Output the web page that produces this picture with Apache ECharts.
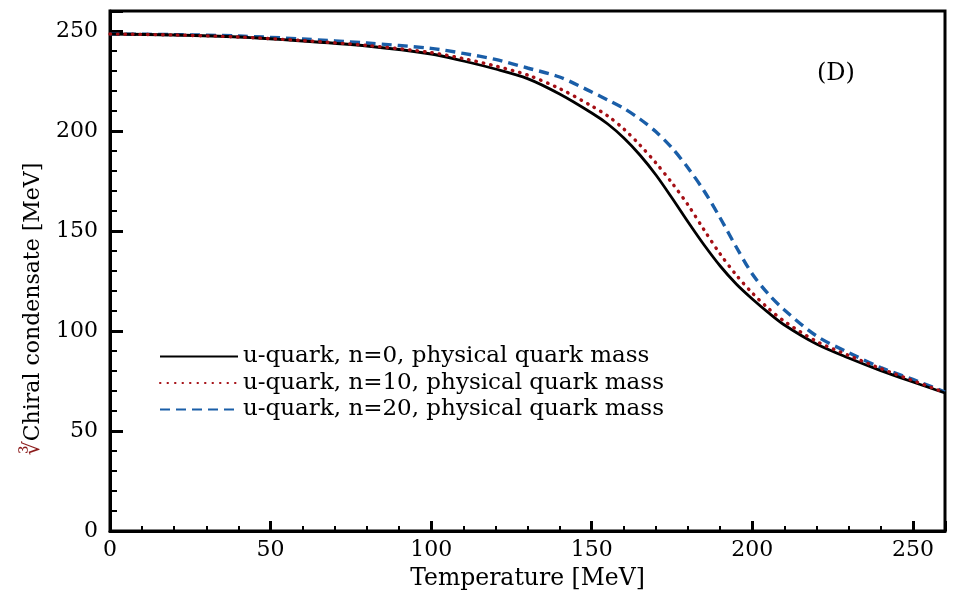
<!DOCTYPE html>
<html>
<head>
<meta charset="utf-8">
<script src="https://cdn.jsdelivr.net/npm/echarts@6/dist/echarts.min.js"></script>
<style>html,body{margin:0;padding:0;background:#fff}#c{width:955px;height:596px}</style>
</head>
<body>
<div id="c"></div>
<script>
const temperature = [0, 20, 40, 60, 80, 100, 110, 120, 130, 140, 150, 155, 160, 165, 170, 175, 180, 185, 190, 195, 200, 205, 210, 220, 230, 240, 250, 260];
const n0  = [248.5, 248.0, 247.0, 245.0, 242.5, 238.5, 235.0, 231.0, 226.2, 218.5, 209.0, 203.5, 196.5, 188.0, 178.0, 166.5, 154.5, 143.0, 132.5, 123.5, 116.0, 109.2, 103.0, 93.5, 86.5, 80.2, 74.5, 69.0];
const n10 = [248.5, 248.0, 247.0, 245.2, 242.8, 239.2, 236.2, 232.5, 228.0, 221.2, 212.5, 207.5, 201.0, 193.0, 184.0, 174.0, 163.0, 150.5, 138.5, 128.0, 119.0, 111.3, 104.8, 94.8, 87.8, 81.2, 75.2, 69.2];
const n20 = [248.5, 248.2, 247.5, 246.0, 244.0, 241.3, 238.8, 235.8, 231.5, 227.0, 219.5, 215.5, 211.3, 206.0, 199.6, 191.5, 181.5, 170.0, 156.5, 142.0, 128.5, 118.5, 110.5, 97.5, 89.2, 81.7, 75.8, 69.5];
const seriesNames = ['u-quark, n=0, physical quark mass', 'u-quark, n=10, physical quark mass', 'u-quark, n=20, physical quark mass'];
const panelLabel = '(D)';
const xTitle = 'Temperature [MeV]';
const yTitle = 'Chiral condensate [MeV]';

const pair = (ys) => temperature.map((t, i) => [t, ys[i]]);
const font = 'DejaVu Serif';
const chart = echarts.init(document.getElementById('c'), null, {renderer: 'canvas'});
const labelStyle = {color: '#000', fontFamily: font, fontSize: 22, showMaxLabel: false};
chart.setOption({
  backgroundColor: '#fff',
  animation: false,
  grid: {left: 110, right: 10, top: 11, bottom: 64, show: true, borderColor: '#000', borderWidth: 3},
  xAxis: {
    type: 'value', min: 0, max: 260, interval: 50,
    name: xTitle, nameLocation: 'middle', nameGap: 36,
    nameTextStyle: {color: '#000', fontFamily: font, fontSize: 23.5},
    axisLine: {lineStyle: {color: '#000', width: 3}},
    axisLabel: Object.assign({}, labelStyle, {margin: 8}),
    axisTick: {inside: true, length: 10, lineStyle: {color: '#000', width: 3}},
    minorTick: {show: true, splitNumber: 5, length: 5, lineStyle: {color: '#000', width: 2}},
    splitLine: {show: false}
  },
  yAxis: {
    type: 'value', min: 0, max: 260, interval: 50,
    name: '{r|∛}' + yTitle, nameLocation: 'middle', nameGap: 66,
    nameTextStyle: {color: '#000', fontFamily: font, fontSize: 22, padding: [0, 76, 0, 0],
      rich: {r: {color: '#8b1a1a', fontFamily: font, fontSize: 22}}},
    axisLine: {lineStyle: {color: '#000', width: 3}},
    axisLabel: Object.assign({}, labelStyle, {margin: 12}),
    axisTick: {inside: true, length: 13, lineStyle: {color: '#000', width: 3}},
    minorTick: {show: true, splitNumber: 5, length: 7, lineStyle: {color: '#000', width: 2}},
    splitLine: {show: false}
  },
  legend: {
    orient: 'vertical', left: 159, top: 345, padding: 0, itemGap: 3.5, itemWidth: 78, itemHeight: 14,
    itemStyle: {opacity: 0, color: 'rgba(0,0,0,0)', borderWidth: 0},
    textStyle: {color: '#000', fontFamily: font, fontSize: 23},
    data: seriesNames
  },
  graphic: [{type: 'text', left: 817, top: 62, style: {text: panelLabel, font: '24px "DejaVu Serif"', fill: '#000'}}],
  series: [
    {name: seriesNames[0], type: 'line', smooth: 0.3, symbol: 'none', data: pair(n0),
      lineStyle: {color: '#000', width: 2.8}, itemStyle: {color: '#000'}, z: 3},
    {name: seriesNames[1], type: 'line', smooth: 0.3, symbol: 'none', data: pair(n10),
      lineStyle: {color: '#a50f15', width: 3.4, type: [0.5, 7], cap: 'round'}, itemStyle: {color: '#a50f15'}, z: 4},
    {name: seriesNames[2], type: 'line', smooth: 0.3, symbol: 'none', data: pair(n20),
      lineStyle: {color: '#1a5ea8', width: 3.4, type: [10, 6]}, itemStyle: {color: '#1a5ea8'}, z: 2}
  ]
});
</script>
</body>
</html>
